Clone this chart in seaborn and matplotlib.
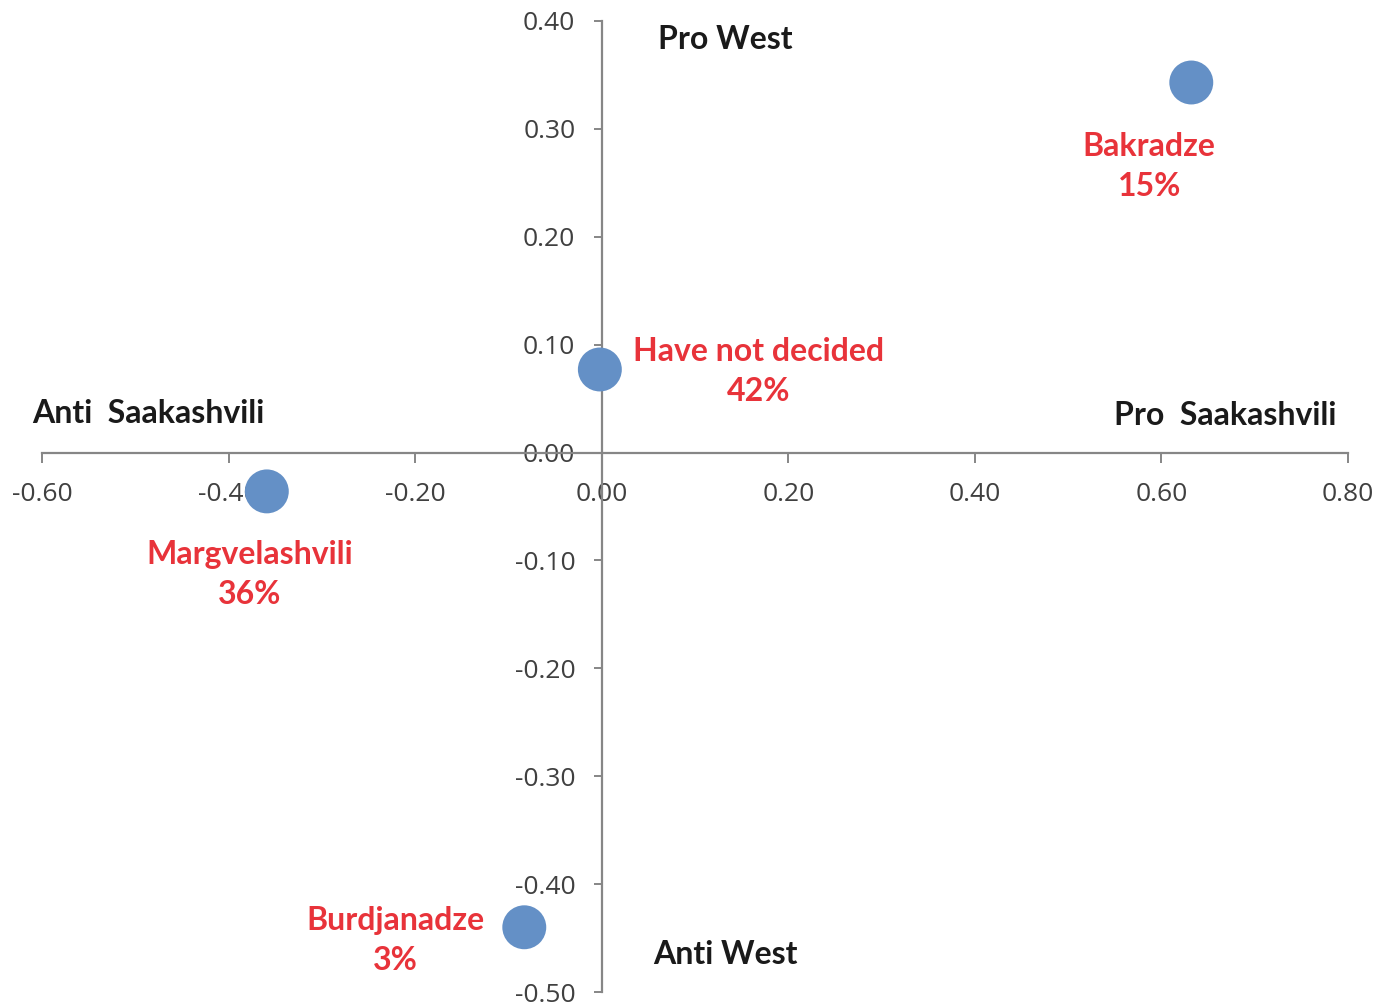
import matplotlib
matplotlib.use("Agg")
import matplotlib.pyplot as plt
import seaborn as sns
import pandas as pd

# Candidate positions on the two attitude dimensions
candidates = ["Bakradze", "Have not decided", "Margvelashvili", "Burdjanadze"]
shares = ["15%", "42%", "36%", "3%"]
saakashvili_axis = [0.632, -0.002, -0.359, -0.083]
west_axis = [0.343, 0.077, -0.036, -0.440]

x_ticks = [-0.60, -0.40, -0.20, 0.00, 0.20, 0.40, 0.60, 0.80]
y_ticks = [-0.50, -0.40, -0.30, -0.20, -0.10, 0.00, 0.10, 0.20, 0.30, 0.40]

# label anchor points (data coords) for the candidate names
label_x = [0.587, 0.168, -0.377, -0.221]
label_y = [0.265, 0.075, -0.113, -0.452]

df = pd.DataFrame({"x": saakashvili_axis, "y": west_axis, "name": candidates})

sns.set_theme(style="white")
plt.rcParams["font.family"] = ["Lato", "DejaVu Sans"]

fig = plt.figure(figsize=(13.94, 10.05), dpi=100)
ax = fig.add_axes([42 / 1394, 1 - 992 / 1005, 1306 / 1394, 971 / 1005])

sns.scatterplot(data=df, x="x", y="y", s=1000, color="#6490C6",
                edgecolor="none", ax=ax, zorder=3, legend=False)

ax.set_xlim(-0.60, 0.80)
ax.set_ylim(-0.50, 0.40)
ax.set_xticks(x_ticks)
ax.set_yticks(y_ticks)
ax.set_xticklabels([f"{v:.2f}" for v in x_ticks])
ax.set_yticklabels([f"{v:.2f}" for v in y_ticks])
ax.set_xlabel("")
ax.set_ylabel("")

for side in ["top", "right"]:
    ax.spines[side].set_visible(False)
axis_col = "#868686"
ax.spines["left"].set_position(("data", 0))
ax.spines["bottom"].set_position(("data", 0))
for side in ["left", "bottom"]:
    ax.spines[side].set_color(axis_col)
    ax.spines[side].set_linewidth(1.6)
    ax.spines[side].set_zorder(1)

ax.tick_params(axis="x", direction="out", length=7, width=1.4, color=axis_col,
               pad=14, labelsize=19, labelcolor="#404040", bottom=True)
ax.tick_params(axis="y", direction="out", length=6, width=1.4, color=axis_col,
               pad=13, labelsize=19, labelcolor="#404040", left=True)
for lbl in ax.get_xticklabels() + ax.get_yticklabels():
    lbl.set_family(["Open Sans", "DejaVu Sans"])

# quadrant captions
cap_kw = dict(fontsize=23, fontweight="bold", color="#1a1a1a")
ax.text(0.133, 0.383, "Pro West", ha="center", va="center", **cap_kw)
ax.text(0.133, -0.465, "Anti West", ha="center", va="center", **cap_kw)
ax.text(-0.610, 0.036, "Anti  Saakashvili", ha="left", va="center", **cap_kw)
ax.text(0.788, 0.034, "Pro  Saakashvili", ha="right", va="center", **cap_kw)

# candidate labels
for name, share, lx, ly in zip(candidates, shares, label_x, label_y):
    ax.text(lx, ly, f"{name}\n{share}", ha="center", va="center",
            fontsize=23, fontweight="bold", color="#E8333A", linespacing=1.45)

fig.savefig("out.png", dpi=100, facecolor="white")
